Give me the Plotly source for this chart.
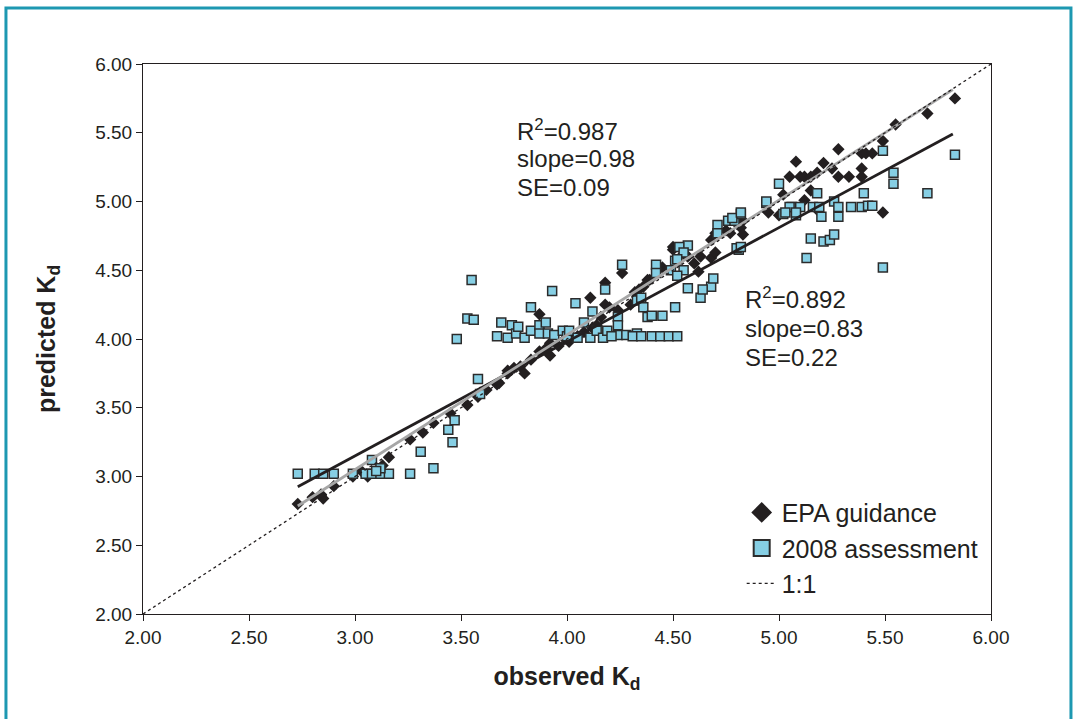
import plotly.graph_objects as go

# EPA guidance: observed vs predicted Kd
epa_obs = [2.73, 2.80, 2.84, 2.85, 2.90, 2.99, 3.03, 3.06, 3.13, 3.16, 3.26, 3.32, 3.37, 3.45,
           3.53, 3.58, 3.59, 3.62, 3.67, 3.68, 3.72, 3.72, 3.75, 3.78, 3.80, 3.83, 3.87, 3.90,
           3.92, 3.92, 3.96, 3.99, 4.01, 4.05, 4.08, 4.12, 4.14, 4.16, 4.18, 4.20, 4.24, 4.30,
           4.32, 4.34, 4.36, 4.38, 4.39, 3.87, 4.11, 4.18, 4.26, 4.45, 4.50, 4.52, 4.57, 4.50,
           4.55, 4.62, 4.63, 4.68, 4.70, 4.68, 4.70, 4.75, 4.77, 4.80, 4.82, 4.83, 4.83, 4.60,
           4.95, 5.00, 5.02, 5.05, 5.08, 5.10, 5.12, 5.12, 5.15, 5.15, 5.18, 5.18, 5.21, 5.25,
           5.28, 5.28, 5.33, 5.39, 5.39, 5.39, 5.41, 5.44, 5.49, 5.49, 5.55, 5.70, 5.83]
epa_pred = [2.80, 2.85, 2.87, 2.84, 2.93, 3.00, 3.04, 3.00, 3.08, 3.14, 3.27, 3.32, 3.39, 3.46,
            3.52, 3.58, 3.61, 3.63, 3.67, 3.68, 3.75, 3.77, 3.79, 3.80, 3.75, 3.85, 3.91, 3.93,
            3.88, 3.97, 3.95, 4.00, 3.98, 4.02, 4.05, 4.08, 4.10, 4.16, 4.25, 4.23, 4.21, 4.25,
            4.34, 4.36, 4.38, 4.43, 4.43, 4.18, 4.30, 4.41, 4.48, 4.52, 4.65, 4.57, 4.60, 4.67,
            4.62, 4.49, 4.60, 4.59, 4.63, 4.72, 4.77, 4.79, 4.77, 4.84, 4.81, 4.76, 4.86, 4.55,
            4.92, 4.90, 5.05, 5.18, 5.29, 5.18, 5.18, 5.01, 5.18, 5.08, 5.21, 4.94, 5.28, 5.24,
            5.38, 5.18, 5.18, 5.18, 5.24, 5.35, 5.35, 5.35, 5.44, 4.92, 5.56, 5.64, 5.75]

# 2008 assessment: observed vs predicted Kd
a08_obs = [2.73, 2.81, 2.85, 2.90, 2.99, 3.05, 3.08, 3.12, 3.16, 3.26, 3.08, 3.12, 3.10, 3.31,
           3.37, 3.44, 3.46, 3.47, 3.48, 3.53, 3.56, 3.55, 3.58, 3.59, 3.67, 3.69, 3.72, 3.74,
           3.76, 3.77, 3.80, 3.83, 3.83, 3.87, 3.87, 3.90, 3.91, 3.93, 3.94, 3.98, 4.00, 4.01,
           4.04, 4.05, 4.08, 4.11, 4.12, 4.14, 4.17, 4.18, 4.19, 4.24, 4.24, 4.24, 4.26, 4.28,
           4.33, 4.21, 4.31, 4.35, 4.40, 4.44, 4.48, 4.52, 4.33, 4.35, 4.36, 4.38, 4.40, 4.45,
           4.51, 4.42, 4.42, 4.49, 4.51, 4.55, 4.52, 4.57, 4.53, 4.55, 4.52, 4.57, 4.63, 4.68,
           4.69, 4.64, 4.71, 4.71, 4.76, 4.79, 4.82, 4.81, 4.80, 4.78, 4.82, 4.82, 4.94, 5.02,
           5.06, 5.08, 5.49, 5.83, 5.54, 5.54, 5.70, 5.00, 5.18, 5.40, 4.94, 5.05, 5.10, 5.16,
           5.19, 5.26, 5.28, 5.34, 5.39, 5.42, 5.44, 5.03, 5.08, 5.20, 5.28, 5.15, 5.21, 5.24,
           5.26, 5.13, 5.49]
a08_pred = [3.02, 3.02, 3.02, 3.02, 3.02, 3.02, 3.02, 3.02, 3.02, 3.02, 3.12, 3.06, 3.04, 3.18,
            3.06, 3.34, 3.25, 3.41, 4.00, 4.15, 4.14, 4.43, 3.71, 3.60, 4.02, 4.12, 4.01, 4.10,
            4.04, 4.09, 4.01, 4.06, 4.23, 4.10, 4.04, 4.12, 4.04, 4.35, 4.03, 4.06, 4.02, 4.06,
            4.26, 4.01, 4.12, 4.01, 4.20, 4.06, 4.01, 4.36, 4.06, 4.16, 4.03, 4.10, 4.54, 4.03,
            4.04, 4.02, 4.02, 4.02, 4.02, 4.02, 4.02, 4.02, 4.28, 4.30, 4.23, 4.16, 4.17, 4.17,
            4.23, 4.54, 4.48, 4.50, 4.57, 4.50, 4.46, 4.68, 4.67, 4.63, 4.58, 4.37, 4.30, 4.38,
            4.44, 4.36, 4.83, 4.77, 4.86, 4.86, 4.91, 4.65, 4.66, 4.88, 4.92, 4.67, 4.99, 4.91,
            4.96, 4.90, 5.37, 5.34, 5.21, 5.13, 5.06, 5.13, 5.06, 5.06, 5.00, 4.96, 4.96, 4.96,
            4.96, 5.00, 4.96, 4.96, 4.96, 4.97, 4.97, 4.92, 4.92, 4.89, 4.89, 4.73, 4.71, 4.72,
            4.76, 4.59, 4.52]

# Linear fits (slope, intercept) and the observed range they span
epa_fit = (0.98, 0.11)
a08_fit = (0.83, 0.66)
fit_range = [2.73, 5.82]
one_to_one = [2.0, 6.0]

font_family = "Arial, Liberation Sans, sans-serif"
ink = "#231f20"
sq_fill = "#86cfe4"
sq_edge = "#2b2b2b"

fig = go.Figure()

fig.add_trace(go.Scatter(
    x=epa_obs, y=epa_pred, mode="markers", name="EPA guidance", showlegend=False,
    marker=dict(symbol="diamond", size=9.5, color=ink, line=dict(width=0))))

fig.add_trace(go.Scatter(
    x=a08_obs, y=a08_pred, mode="markers", name="2008 assessment", showlegend=False,
    marker=dict(symbol="square", size=9, color=sq_fill,
                line=dict(width=1.5, color=sq_edge))))

fig.add_trace(go.Scatter(
    x=fit_range, y=[a08_fit[0] * v + a08_fit[1] for v in fit_range],
    mode="lines", showlegend=False, line=dict(color=ink, width=2.8)))

fig.add_trace(go.Scatter(
    x=fit_range, y=[epa_fit[0] * v + epa_fit[1] for v in fit_range],
    mode="lines", showlegend=False, line=dict(color="#a6a6a6", width=2.8)))

fig.add_trace(go.Scatter(
    x=one_to_one, y=one_to_one, mode="lines", name="1:1", showlegend=False,
    line=dict(color=ink, width=1.3, dash="dot")))

# Legend keys (larger symbols than the plotted points)
fig.add_trace(go.Scatter(
    x=[None], y=[None], mode="markers", name="EPA guidance",
    marker=dict(symbol="diamond", size=16, color=ink, line=dict(width=0))))
fig.add_trace(go.Scatter(
    x=[None], y=[None], mode="markers", name="2008 assessment",
    marker=dict(symbol="square", size=16, color=sq_fill,
                line=dict(width=2, color=sq_edge))))
fig.add_trace(go.Scatter(
    x=[None], y=[None], mode="lines", name="1:1",
    line=dict(color=ink, width=1.3, dash="dot")))

ticks = [2.0 + 0.5 * i for i in range(9)]
tick_text = [f"{t:.2f}" for t in ticks]

axis_common = dict(
    range=[2, 6], tickvals=ticks, ticktext=tick_text,
    showgrid=False, zeroline=False,
    showline=True, linecolor=ink, linewidth=1, mirror=True,
    ticks="outside", ticklen=6, tickcolor=ink, tickwidth=1,
    tickfont=dict(family=font_family, size=19, color=ink),
)

fig.update_xaxes(
    **axis_common,
    title=dict(text="<b>observed K<sub>d</sub></b>", standoff=20,
               font=dict(family=font_family, size=25, color=ink)))
fig.update_yaxes(
    **axis_common,
    title=dict(text="<b>predicted K<sub>d</sub></b>", standoff=32,
               font=dict(family=font_family, size=25, color=ink)))

stats = [
    (3.755, 5.52, "R<sup>2</sup>=0.987"),
    (3.755, 5.316, "slope=0.98"),
    (3.755, 5.105, "SE=0.09"),
    (4.83, 4.298, "R<sup>2</sup>=0.892"),
    (4.83, 4.08, "slope=0.83"),
    (4.83, 3.869, "SE=0.22"),
]
for sx, sy, txt in stats:
    fig.add_annotation(x=sx, y=sy, xref="x", yref="y", text=txt, showarrow=False,
                       xanchor="left", yanchor="middle",
                       font=dict(family=font_family, size=24, color=ink))

# Teal frame around the whole figure
fig.add_shape(type="rect", xref="paper", yref="paper",
              x0=-0.1616, x1=1.0943, y0=-0.25, y1=1.1018,
              line=dict(color="#1d98b1", width=3), fillcolor="rgba(0,0,0,0)",
              layer="below")

fig.update_layout(
    width=1077, height=719,
    margin=dict(l=143, r=86, t=64, b=105),
    paper_bgcolor="white", plot_bgcolor="white",
    font=dict(family=font_family, color=ink),
    showlegend=True,
    legend=dict(x=0.706, y=0.226, xanchor="left", yanchor="top",
                bgcolor="rgba(0,0,0,0)", borderwidth=0,
                tracegroupgap=0,
                font=dict(family=font_family, size=25, color=ink)),
)

fig.write_html("out.html")
